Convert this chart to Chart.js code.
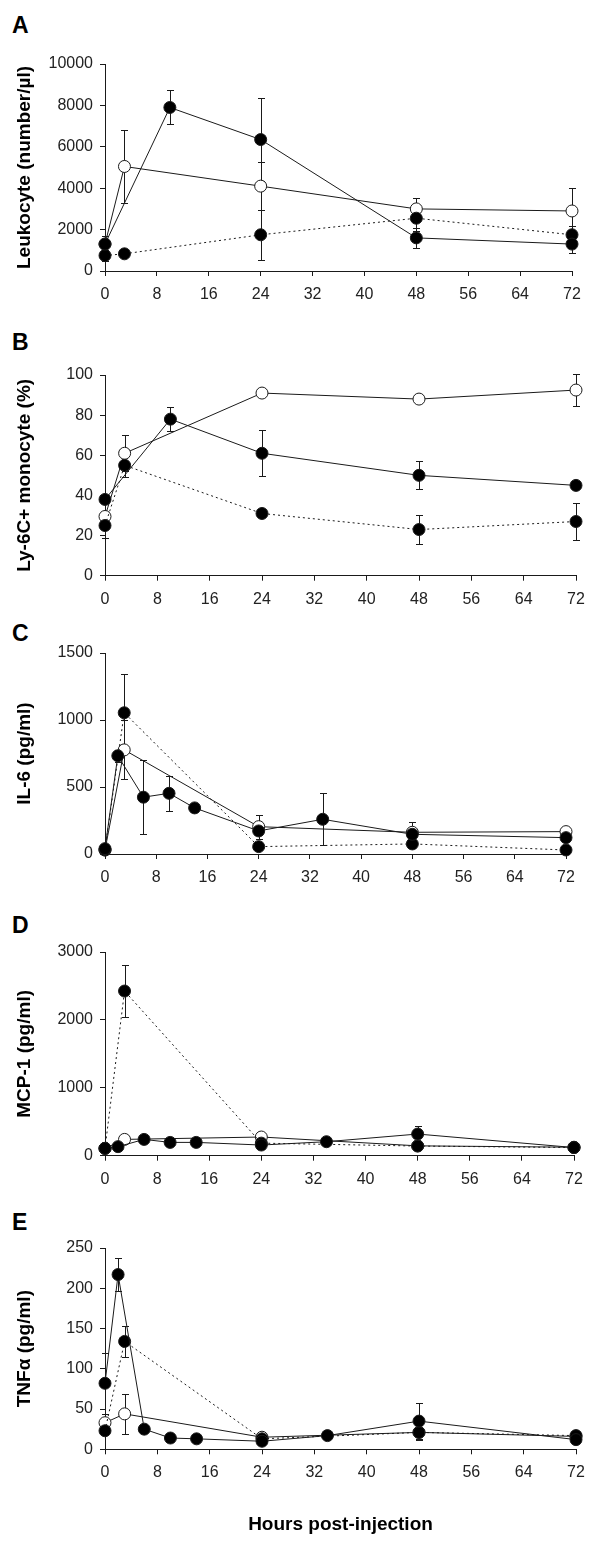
<!DOCTYPE html>
<html>
<head>
<meta charset="utf-8">
<script src="https://cdn.jsdelivr.net/npm/chart.js@4/dist/chart.umd.min.js"></script>
<style>
  html, body { margin:0; padding:0; background:#fff; }
  body { width:600px; height:1547px; position:relative; overflow:hidden; }
  .panel { position:absolute; left:0; width:600px; }
  .letter { position:absolute; left:12px; font:bold 23px/23px "Liberation Sans", Arial, sans-serif; color:#000; }
</style>
</head>
<body>
<div class="letter" style="top:14px">A</div>
<div class="letter" style="top:331px">B</div>
<div class="letter" style="top:622px">C</div>
<div class="letter" style="top:914px">D</div>
<div class="letter" style="top:1211px">E</div>

<div class="panel" style="top:0px"><canvas id="cA" width="600" height="310"></canvas></div>
<div class="panel" style="top:310px"><canvas id="cB" width="600" height="305"></canvas></div>
<div class="panel" style="top:615px"><canvas id="cC" width="600" height="280"></canvas></div>
<div class="panel" style="top:895px"><canvas id="cD" width="600" height="300"></canvas></div>
<div class="panel" style="top:1195px"><canvas id="cE" width="600" height="352"></canvas></div>

<script>
// ---------- DATA ----------
const xTicks = [0, 8, 16, 24, 32, 40, 48, 56, 64, 72];
const xTitle = "Hours post-injection";

// Panel A: Leukocyte (number/µl)
const A_filledX = [0, 10, 24, 48, 72];
const A_filledY = [1300, 7900, 6350, 1600, 1300];
const A_filledE = [400, 820, 2000, 500, 430];
const A_openX = [0, 3, 24, 48, 72];
const A_openY = [1300, 5050, 4100, 3000, 2900];
const A_openE = [200, 1760, 1150, 550, 1100];
const A_dotX = [0, 3, 24, 48, 72];
const A_dotY = [750, 830, 1750, 2550, 1750];
const A_dotE = [250, 0, 1200, 600, 420];

// Panel B: Ly-6C+ monocyte (%)
const B_filledX = [0, 10, 24, 48, 72];
const B_filledY = [38, 78, 61, 50, 45];
const B_filledE = [0, 6, 11.5, 7, 1];
const B_openX = [0, 3, 24, 48, 72];
const B_openY = [29.5, 61, 91, 88, 92.5];
const B_openE = [0, 9, 2, 2, 8];
const B_dotX = [0, 3, 24, 48, 72];
const B_dotY = [25, 55, 31, 23, 27];
const B_dotE = [6, 6, 1, 7, 9];

// Panel C: IL-6 (pg/ml)
const C_filledX = [0, 2, 6, 10, 14, 24, 34, 48, 72];
const C_filledY = [40, 733, 424, 453, 344, 172, 259, 147, 122];
const C_filledE = [0, 45, 275, 130, 0, 0, 195, 95, 0];
const C_openX = [0, 3, 24, 48, 72];
const C_openY = [30, 777, 204, 162, 167];
const C_openE = [0, 220, 90, 0, 35];
const C_dotX = [0, 3, 24, 48, 72];
const C_dotY = [30, 1054, 55, 75, 30];
const C_dotE = [0, 290, 0, 0, 0];

// Panel D: MCP-1 (pg/ml)
const D_filledX = [0, 2, 6, 10, 14, 24, 34, 48, 72];
const D_filledY = [108, 133, 240, 196, 196, 157, 206, 319, 120];
const D_filledE = [0, 0, 0, 0, 0, 0, 0, 120, 0];
const D_openX = [0, 3, 24, 48, 72];
const D_openY = [108, 240, 275, 145, 125];
const D_openE = [0, 0, 0, 0, 0];
const D_dotX = [0, 3, 24, 48, 72];
const D_dotY = [108, 2425, 185, 142, 120];
const D_dotE = [0, 380, 0, 0, 0];

// Panel E: TNFα (pg/ml)
const E_filledX = [0, 2, 6, 10, 14, 24, 34, 48, 72];
const E_filledY = [82, 217, 25, 14, 13, 10, 17, 35, 12];
const E_filledE = [38, 20, 4, 0, 0, 0, 0, 22, 0];
const E_openX = [0, 3, 24, 48, 72];
const E_openY = [33, 44, 15, 21, 16];
const E_openE = [0, 25, 0, 0, 0];
const E_dotX = [0, 3, 24, 48, 72];
const E_dotY = [23, 134, 13, 21, 17];
const E_dotE = [0, 19, 0, 9, 0];

// ---------- RENDERING ----------
const FONT = '"Liberation Sans", Arial, sans-serif';
const INK = '#1a1a1a';

const errorBars = {
  id: 'errorBars',
  beforeDatasetsDraw(chart) {
    const { ctx, scales: { x, y } } = chart;
    ctx.save();
    ctx.strokeStyle = INK;
    ctx.lineWidth = 1;
    chart.data.datasets.forEach(ds => {
      if (!ds.err) return;
      ds.data.forEach((p, i) => {
        const e = ds.err[i];
        if (!e) return;
        const px = Math.round(x.getPixelForValue(p.x)) + 0.5;
        const yt = Math.round(y.getPixelForValue(p.y + e)) + 0.5;
        const yb = Math.round(y.getPixelForValue(Math.max(0, p.y - e))) + 0.5;
        const cap = 3.5;
        ctx.beginPath();
        ctx.moveTo(px, yt); ctx.lineTo(px, yb);
        ctx.moveTo(px - cap, yt); ctx.lineTo(px + cap, yt);
        ctx.moveTo(px - cap, yb); ctx.lineTo(px + cap, yb);
        ctx.stroke();
      });
    });
    ctx.restore();
  }
};

function pts(xs, ys) { return xs.map((v, i) => ({ x: v, y: ys[i] })); }

function series(xs, ys, es, kind) {
  return {
    data: pts(xs, ys),
    err: es,
    showLine: true,
    clip: false,
    tension: 0,
    borderColor: INK,
    borderWidth: 1,
    borderDash: kind === 'dot' ? [2, 3] : [],
    pointRadius: 6,
    pointHoverRadius: 6,
    pointBorderWidth: 1,
    pointBorderColor: INK,
    pointBackgroundColor: kind === 'open' ? '#ffffff' : '#000000',
  };
}

function makePanel(id, cfg) {
  // first dataset is painted last (on top)
  const ds = [
    series(cfg.filledX, cfg.filledY, cfg.filledE, 'filled'),
    series(cfg.dotX, cfg.dotY, cfg.dotE, 'dot'),
    series(cfg.openX, cfg.openY, cfg.openE, 'open'),
  ];
  new Chart(document.getElementById(id), {
    type: 'scatter',
    data: { datasets: ds },
    plugins: [errorBars],
    options: {
      responsive: false,
      animation: false,
      events: [],
      layout: { autoPadding: false, padding: { top: cfg.padTop, right: cfg.padRight, bottom: 0, left: 0 } },
      plugins: { legend: { display: false }, tooltip: { enabled: false } },
      scales: {
        x: {
          type: 'linear', min: 0, max: 72,
          afterFit(s) { s.height = cfg.xHeight; },
          afterBuildTicks(s) { s.ticks = xTicks.map(v => ({ value: v })); },
          grid: { display: true, drawOnChartArea: false, drawTicks: true, tickLength: 5, color: INK, lineWidth: 1 },
          border: { display: true, color: INK, width: 1 },
          ticks: { color: '#222', font: { family: FONT, size: 16 }, padding: 9, maxRotation: 0, autoSkip: false, callback: v => String(v) },
          title: cfg.showXTitle ? { display: true, text: xTitle, color: '#000', font: { family: FONT, size: 19, weight: 'bold' }, padding: { top: 0, bottom: 11 } } : { display: false }
        },
        y: {
          type: 'linear', min: 0, max: cfg.yMax,
          afterFit(s) { s.width = 105; },
          afterBuildTicks(s) { s.ticks = cfg.yTicks.map(v => ({ value: v })); },
          grid: { display: true, drawOnChartArea: false, drawTicks: true, tickLength: 5, color: INK, lineWidth: 1 },
          border: { display: true, color: INK, width: 1 },
          ticks: { color: '#222', font: { family: FONT, size: 16 }, padding: 7, callback: v => String(v) },
          title: { display: true, text: cfg.yTitle, color: '#000', font: { family: FONT, size: 19, weight: 'bold' }, padding: { top: 13, bottom: 0 } }
        }
      }
    }
  });
}

makePanel('cA', { openX: A_openX, openY: A_openY, openE: A_openE, filledX: A_filledX, filledY: A_filledY, filledE: A_filledE, dotX: A_dotX, dotY: A_dotY, dotE: A_dotE,
  yMax: 10000, yTicks: [0, 2000, 4000, 6000, 8000, 10000], yTitle: 'Leukocyte (number/µl)', padTop: 64, padRight: 28, xHeight: 39 });
makePanel('cB', { openX: B_openX, openY: B_openY, openE: B_openE, filledX: B_filledX, filledY: B_filledY, filledE: B_filledE, dotX: B_dotX, dotY: B_dotY, dotE: B_dotE,
  yMax: 100, yTicks: [0, 20, 40, 60, 80, 100], yTitle: 'Ly-6C+ monocyte (%)', padTop: 65, padRight: 24, xHeight: 39.3 });
makePanel('cC', { openX: C_openX, openY: C_openY, openE: C_openE, filledX: C_filledX, filledY: C_filledY, filledE: C_filledE, dotX: C_dotX, dotY: C_dotY, dotE: C_dotE,
  yMax: 1500, yTicks: [0, 500, 1000, 1500], yTitle: 'IL-6 (pg/ml)', padTop: 38, padRight: 34, xHeight: 41 });
makePanel('cD', { openX: D_openX, openY: D_openY, openE: D_openE, filledX: D_filledX, filledY: D_filledY, filledE: D_filledE, dotX: D_dotX, dotY: D_dotY, dotE: D_dotE,
  yMax: 3000, yTicks: [0, 1000, 2000, 3000], yTitle: 'MCP-1 (pg/ml)', padTop: 57, padRight: 26, xHeight: 39.3 });
makePanel('cE', { openX: E_openX, openY: E_openY, openE: E_openE, filledX: E_filledX, filledY: E_filledY, filledE: E_filledE, dotX: E_dotX, dotY: E_dotY, dotE: E_dotE,
  yMax: 250, yTicks: [0, 50, 100, 150, 200, 250], yTitle: 'TNFα (pg/ml)', padTop: 53, padRight: 24, xHeight: 97.7, showXTitle: true });
</script>
</body>
</html>
